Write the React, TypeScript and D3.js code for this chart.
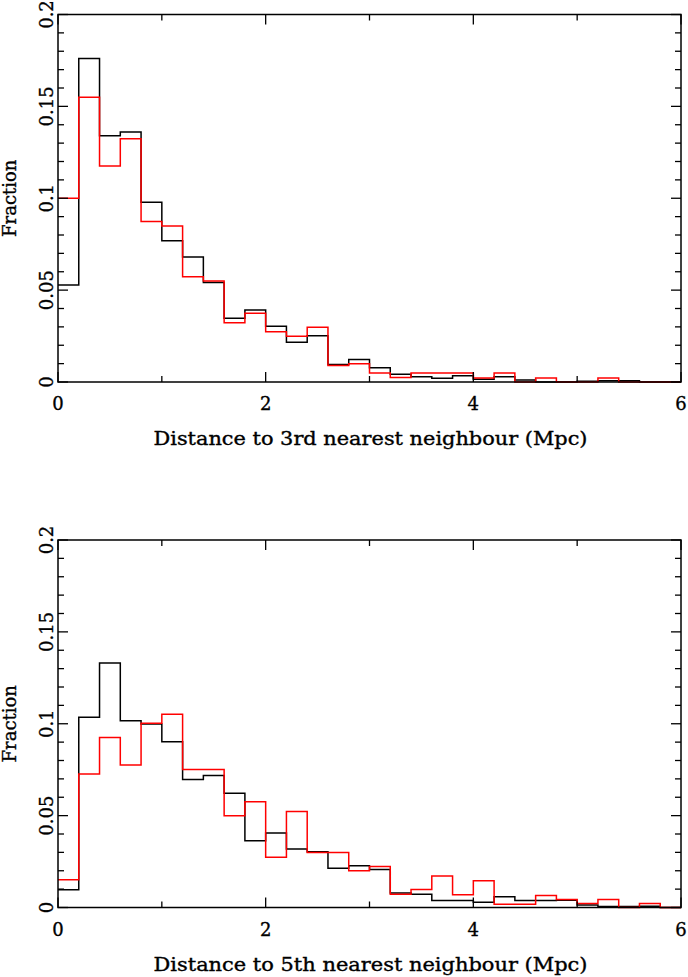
import React from 'react';
import * as d3 from 'd3';

// bin starts (Mpc), width 0.2
const binStarts = d3.range(30).map((i) => +(i * 0.2).toFixed(1));

// 3rd nearest neighbour
const black3 = [
  0.0528, 0.176, 0.134, 0.136, 0.0978, 0.0769, 0.068, 0.0542, 0.0347, 0.0392,
  0.0303, 0.0216, 0.0252, 0.0095, 0.0123, 0.0078, 0.0042, 0.0029, 0.002, 0.0034,
  0.0015, 0.0029, 0.0011, 0, 0, 0.0004, 0.0007, 0.0007, 0, 0,
];
const red3 = [
  0.1, 0.155, 0.1176, 0.1324, 0.0874, 0.0849, 0.0573, 0.055, 0.0323, 0.0374,
  0.0274, 0.0249, 0.0298, 0.009, 0.0099, 0.0049, 0.0024, 0.0049, 0.0049, 0.0049,
  0.0022, 0.0049, 0, 0.0022, 0, 0, 0.0022, 0, 0, 0,
];

// 5th nearest neighbour
const black5 = [
  0.0096, 0.1036, 0.133, 0.1016, 0.0998, 0.0902, 0.0697, 0.0718, 0.0622, 0.0363,
  0.0406, 0.0319, 0.0303, 0.0214, 0.0227, 0.0207, 0.0079, 0.0072, 0.0038, 0.0038,
  0.0029, 0.0058, 0.0038, 0.0038, 0.004, 0.0014, 0.0005, 0.0005, 0.0007, 0,
];
const red5 = [
  0.0151, 0.0726, 0.0925, 0.0775, 0.1003, 0.1052, 0.0751, 0.0751, 0.0499, 0.0575,
  0.0274, 0.0522, 0.0299, 0.0299, 0.02, 0.0223, 0.0072, 0.0098, 0.0171, 0.0069,
  0.0145, 0.0018, 0.0018, 0.0065, 0.0043, 0.0022, 0.0043, 0, 0.0022, 0,
];

const xMajor = [0, 2, 4, 6];
const xMinor = [1, 3, 5];
const yMajor = [0, 0.05, 0.1, 0.15, 0.2];
const yLabels = ['0', '0.05', '0.1', '0.15', '0.2'];
const yMinor = d3.range(21).map((i) => +(i * 0.01).toFixed(2));

const FONT = '"DejaVu Serif", serif';

type PanelProps = {
  top: number;
  black: number[];
  red: number[];
  title: string;
};

const left = 58;
const right = 681;
const plotH = 367.5;

// text drawn slightly heavier, like the plotting package's stroke font
const textStyle = { fontFamily: FONT, fontSize: 18, stroke: '#000', strokeWidth: 0.35 };

const Panel = ({ top, black, red, title }: PanelProps) => {
  const x = d3.scaleLinear().domain([0, 6]).range([left, right]);
  const y = d3.scaleLinear().domain([0, 0.2]).range([top + plotH, top]);

  const line = d3
    .line<[number, number]>()
    .x((d) => x(d[0]))
    .y((d) => y(d[1]))
    .curve(d3.curveStepAfter);

  const pts = (vals: number[]): [number, number][] => [
    ...binStarts.map((b, i) => [b, vals[i]] as [number, number]),
    [6, vals[vals.length - 1]],
  ];

  const bottom = top + plotH;
  return (
    <g>
      <path d={line(pts(black)) || ''} fill="none" stroke="#000" strokeWidth={1.5} />
      <path d={line(pts(red)) || ''} fill="none" stroke="#ff0000" strokeWidth={1.5} />
      <rect x={left} y={top} width={right - left} height={plotH} fill="none" stroke="#000" strokeWidth={1.5} />
      {yMinor.map((v) => {
        const major = yMajor.some((m) => Math.abs(m - v) < 1e-6);
        const len = major ? 10 : 6;
        return (
          <g key={'y' + v}>
            <line x1={left} x2={left + len} y1={y(v)} y2={y(v)} stroke="#000" strokeWidth={1.3} />
            <line x1={right} x2={right - len} y1={y(v)} y2={y(v)} stroke="#000" strokeWidth={1.3} />
          </g>
        );
      })}
      {xMajor.map((v) => (
        <g key={'xM' + v}>
          <line x1={x(v)} x2={x(v)} y1={bottom} y2={bottom - 10} stroke="#000" strokeWidth={1.3} />
          <line x1={x(v)} x2={x(v)} y1={top} y2={top + 10} stroke="#000" strokeWidth={1.3} />
          <text x={x(v)} y={bottom + 28} textAnchor="middle" style={textStyle}>
            {v}
          </text>
        </g>
      ))}
      {xMinor.map((v) => (
        <g key={'xm' + v}>
          <line x1={x(v)} x2={x(v)} y1={bottom} y2={bottom - 6} stroke="#000" strokeWidth={1.3} />
          <line x1={x(v)} x2={x(v)} y1={top} y2={top + 6} stroke="#000" strokeWidth={1.3} />
        </g>
      ))}
      {yMajor.map((v, i) => (
        <text
          key={'yl' + v}
          transform={`translate(${left - 5},${y(v)}) rotate(-90)`}
          textAnchor="middle"
          style={textStyle}
        >
          {yLabels[i]}
        </text>
      ))}
      <text
        transform={`translate(16,${top + plotH / 2}) rotate(-90)`}
        textAnchor="middle"
        style={textStyle}
      >
        Fraction
      </text>
      <text
        x={(left + right) / 2 + 1}
        y={bottom + 63}
        textAnchor="middle"
        style={textStyle}
        textLength={434}
        lengthAdjust="spacingAndGlyphs"
      >
        {title}
      </text>
    </g>
  );
};

export default function App() {
  return (
    <svg
      width={688}
      height={977}
      style={{ position: 'absolute', left: 0, top: 0, background: '#fff' }}
    >
      <Panel top={14.5} black={black3} red={red3} title="Distance to 3rd nearest neighbour (Mpc)" />
      <Panel top={540} black={black5} red={red5} title="Distance to 5th nearest neighbour (Mpc)" />
    </svg>
  );
}
